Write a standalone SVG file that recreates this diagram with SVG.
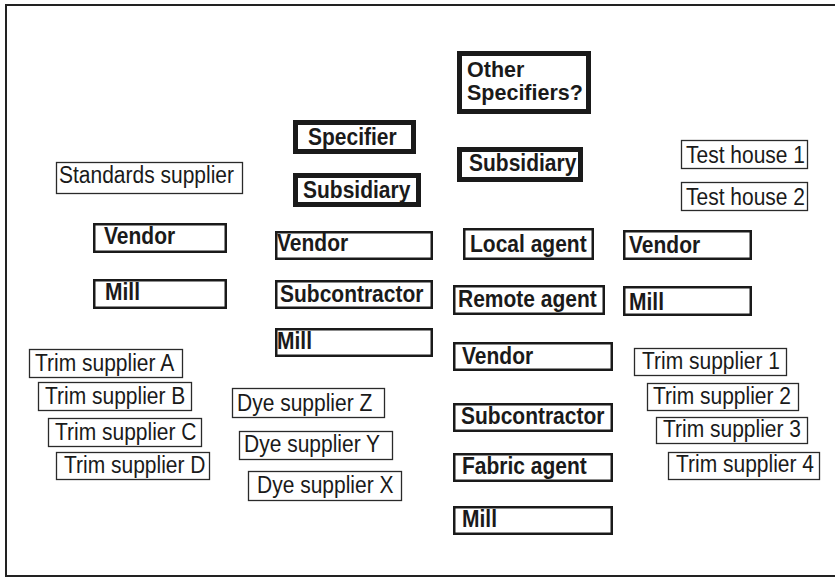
<svg xmlns="http://www.w3.org/2000/svg" width="835" height="577" viewBox="0 0 835 577">
<style>
  .thick { fill: #fff; stroke: #1a1a1a; stroke-width: 5; }
  .med { fill: #fff; stroke: #1a1a1a; stroke-width: 2.5; }
  .thin { fill: #fff; stroke: #2a2a2a; stroke-width: 1.3; }
  .b { font-family: "Liberation Sans", Arial, sans-serif; font-weight: bold; font-size: 21px; fill: #1a1a1a; }
  .r { font-family: "Liberation Sans", Arial, sans-serif; font-size: 21px; fill: #1a1a1a; }
  .big { font-size: 21.5px; }
</style>
<rect x="0" y="0" width="835" height="577" fill="#fff"/>
<path d="M835 5 H6 V576 H835" fill="none" stroke="#222" stroke-width="2"/>
<g id="connectors"></g>

<g id="other-specifiers"><rect class="thick" x="459.5" y="53.5" width="129" height="58"/><text class="b big" x="467" y="77">Other</text><text class="b big" x="467" y="100">Specifiers?</text></g>
<g id="specifier"><rect class="thick" x="295.5" y="122.5" width="118" height="29"/><text class="b" transform="translate(308 145) scale(1 1.1)">Specifier</text></g>
<g id="subsidiary-left"><rect class="thick" x="295.5" y="175.5" width="123" height="29"/><text class="b" transform="translate(303 198) scale(1 1.1)">Subsidiary</text></g>
<g id="subsidiary-right"><rect class="thick" x="459.5" y="149.5" width="121" height="30"/><text class="b" transform="translate(469 171) scale(1 1.1)">Subsidiary</text></g>

<g id="standards-supplier"><rect class="thin" x="56.5" y="162.5" width="186" height="31"/><text class="r" transform="translate(59 183) scale(1 1.1)">Standards supplier</text></g>
<g id="test-house-1"><rect class="thin" x="681.5" y="140.5" width="126" height="28"/><text class="r" transform="translate(686 163) scale(1 1.1)">Test house 1</text></g>
<g id="test-house-2"><rect class="thin" x="681.5" y="182.5" width="126" height="28"/><text class="r" transform="translate(686 205) scale(1 1.1)">Test house 2</text></g>

<g id="vendor-1"><rect class="med" x="94.25" y="224.25" width="131.5" height="27.5"/><text class="b" transform="translate(104 244) scale(1 1.1)">Vendor</text></g>
<g id="mill-1"><rect class="med" x="94.25" y="280.25" width="131.5" height="27.5"/><text class="b" transform="translate(105 300) scale(1 1.1)">Mill</text></g>

<g id="vendor-2"><rect class="med" x="276.25" y="232.25" width="155.5" height="26.5"/><text class="b" transform="translate(277 251) scale(1 1.1)">Vendor</text></g>
<g id="subcontractor-2"><rect class="med" x="276.25" y="281.25" width="155.5" height="26.5"/><text class="b" transform="translate(280 302) scale(1 1.1)">Subcontractor</text></g>
<g id="mill-2"><rect class="med" x="276.25" y="329.25" width="155.5" height="26.5"/><text class="b" transform="translate(277 349) scale(1 1.1)">Mill</text></g>

<g id="local-agent"><rect class="med" x="464.25" y="229.25" width="128.5" height="29.5"/><text class="b" transform="translate(470 252) scale(1 1.1)">Local agent</text></g>
<g id="remote-agent"><rect class="med" x="454.25" y="286.25" width="149.5" height="27.5"/><text class="b" transform="translate(458 307) scale(1 1.1)">Remote agent</text></g>
<g id="vendor-3"><rect class="med" x="454.25" y="343.25" width="157.5" height="26.5"/><text class="b" transform="translate(462 364) scale(1 1.1)">Vendor</text></g>
<g id="subcontractor-3"><rect class="med" x="454.25" y="404.25" width="157.5" height="26.5"/><text class="b" transform="translate(461 424) scale(1 1.1)">Subcontractor</text></g>
<g id="fabric-agent"><rect class="med" x="454.25" y="454.25" width="157.5" height="26.5"/><text class="b" transform="translate(462 474) scale(1 1.1)">Fabric agent</text></g>
<g id="mill-3"><rect class="med" x="454.25" y="507.25" width="157.5" height="26.5"/><text class="b" transform="translate(462 527) scale(1 1.1)">Mill</text></g>

<g id="vendor-4"><rect class="med" x="624.25" y="231.25" width="126.5" height="27.5"/><text class="b" transform="translate(629 253) scale(1 1.1)">Vendor</text></g>
<g id="mill-4"><rect class="med" x="624.25" y="287.25" width="126.5" height="27.5"/><text class="b" transform="translate(629 310) scale(1 1.1)">Mill</text></g>

<g id="trim-a"><rect class="thin" x="29.5" y="349.5" width="153" height="28"/><text class="r" transform="translate(35 371) scale(1 1.1)">Trim supplier A</text></g>
<g id="trim-b"><rect class="thin" x="38.5" y="382.5" width="153" height="28"/><text class="r" transform="translate(45 404) scale(1 1.1)">Trim supplier B</text></g>
<g id="trim-c"><rect class="thin" x="48.5" y="418.5" width="153" height="28"/><text class="r" transform="translate(55 440) scale(1 1.1)">Trim supplier C</text></g>
<g id="trim-d"><rect class="thin" x="56.5" y="452.5" width="153" height="27"/><text class="r" transform="translate(64 473) scale(1 1.1)">Trim supplier D</text></g>

<g id="dye-z"><rect class="thin" x="232.5" y="388.5" width="152" height="29"/><text class="r" transform="translate(237 411) scale(1 1.1)">Dye supplier Z</text></g>
<g id="dye-y"><rect class="thin" x="239.5" y="431.5" width="153" height="28"/><text class="r" transform="translate(244 452) scale(1 1.1)">Dye supplier Y</text></g>
<g id="dye-x"><rect class="thin" x="248.5" y="471.5" width="153" height="29"/><text class="r" transform="translate(257 493) scale(1 1.1)">Dye supplier X</text></g>

<g id="trim-1"><rect class="thin" x="634.5" y="348.5" width="152" height="27"/><text class="r" transform="translate(642 369) scale(1 1.1)">Trim supplier 1</text></g>
<g id="trim-2"><rect class="thin" x="647.5" y="383.5" width="151" height="27"/><text class="r" transform="translate(653 404) scale(1 1.1)">Trim supplier 2</text></g>
<g id="trim-3"><rect class="thin" x="656.5" y="417.5" width="151" height="26"/><text class="r" transform="translate(663 437) scale(1 1.1)">Trim supplier 3</text></g>
<g id="trim-4"><rect class="thin" x="668.5" y="452.5" width="151" height="27"/><text class="r" transform="translate(676 472) scale(1 1.1)">Trim supplier 4</text></g>
</svg>
